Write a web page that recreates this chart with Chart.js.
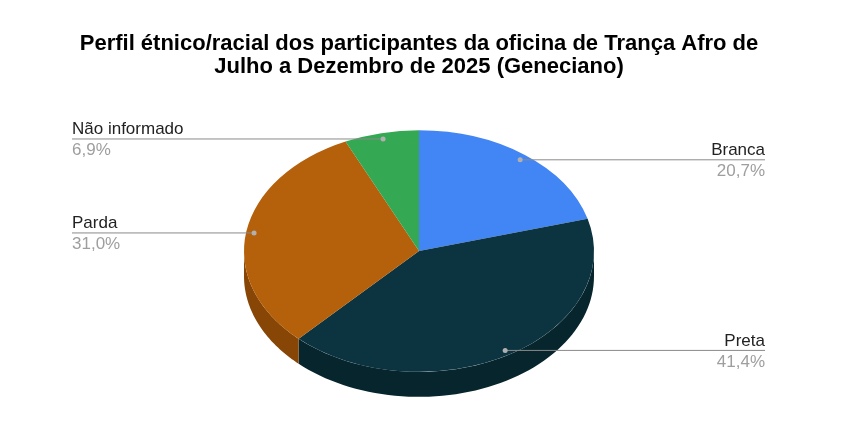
<!DOCTYPE html>
<html>
<head>
<meta charset="utf-8">
<script src="https://cdn.jsdelivr.net/npm/chart.js@4.4.1/dist/chart.umd.min.js"></script>
<style>
  html, body { margin: 0; padding: 0; background: #fff; }
  #wrap { width: 851px; height: 445px; }
</style>
</head>
<body>
<div id="wrap"><canvas id="perfilChart"></canvas></div>
<script>
// data (29 participants)
const categories = ['Branca', 'Preta', 'Parda', 'Não informado'];
const counts = [6, 12, 9, 2];
const topColors = ['#4285f4', '#0c3340', '#b5600a', '#34a853'];
const sideColors = ['#2a62c0', '#07252d', '#874606', '#23803e'];
const chartTitle = ['Perfil étnico/racial dos participantes da oficina de Trança Afro de',
                    'Julho a Dezembro de 2025 (Geneciano)'];

const TILT = 0.69;   // vertical squash of the pie
const DEPTH = 25;    // thickness of the 3d rim

// draws the rim under the pie and squashes the top face into an ellipse
const pie3d = {
    id: 'pie3d',
    beforeDatasetsDraw(chart) {
        const ctx = chart.ctx;
        const arcs = chart.getDatasetMeta(0).data;
        arcs.forEach((arc, i) => {
            const { x, y, startAngle, endAngle, outerRadius } = arc;
            [0, 2 * Math.PI].forEach(base => {
                const a0 = Math.max(startAngle, base);
                const a1 = Math.min(endAngle, base + Math.PI);
                if (a1 <= a0) return;
                const steps = 60;
                ctx.beginPath();
                for (let k = 0; k <= steps; k++) {
                    const a = a0 + (a1 - a0) * k / steps;
                    const px = x + outerRadius * Math.cos(a);
                    const py = y + TILT * outerRadius * Math.sin(a);
                    if (k === 0) ctx.moveTo(px, py); else ctx.lineTo(px, py);
                }
                for (let k = steps; k >= 0; k--) {
                    const a = a0 + (a1 - a0) * k / steps;
                    ctx.lineTo(x + outerRadius * Math.cos(a), y + TILT * outerRadius * Math.sin(a) + DEPTH);
                }
                ctx.closePath();
                ctx.fillStyle = sideColors[i];
                ctx.fill();
            });
        });
        const c = arcs[0];
        ctx.save();
        ctx.translate(c.x, c.y);
        ctx.scale(1, TILT);
        ctx.translate(-c.x, -c.y);
    },
    afterDatasetsDraw(chart) {
        const ctx = chart.ctx;
        ctx.restore();
        const arcs = chart.getDatasetMeta(0).data;
        const total = counts.reduce((a, b) => a + b, 0);
        const leftX = 72, rightX = 765;
        arcs.forEach((arc, i) => {
            const mid = (arc.startAngle + arc.endAngle) / 2;
            const r = arc.outerRadius * 0.955;
            const px = arc.x + r * Math.cos(mid);
            const py = arc.y + TILT * r * Math.sin(mid);
            const right = Math.cos(mid) >= 0;
            const ex = right ? rightX : leftX;

            ctx.strokeStyle = '#8a8a8a';
            ctx.lineWidth = 1;
            ctx.beginPath();
            ctx.moveTo(px, py + 0.5);
            ctx.lineTo(ex, py + 0.5);
            ctx.stroke();

            ctx.fillStyle = '#b0b0b0';
            ctx.beginPath();
            ctx.arc(px, py + 0.5, 2.5, 0, Math.PI * 2);
            ctx.fill();

            ctx.textAlign = right ? 'right' : 'left';
            ctx.textBaseline = 'alphabetic';
            ctx.font = '17px "Liberation Sans", Arial, sans-serif';
            ctx.fillStyle = '#222222';
            ctx.fillText(categories[i], ex, py - 4);
            ctx.fillStyle = '#9e9e9e';
            const pct = (counts[i] / total * 100).toFixed(1).replace('.', ',') + '%';
            ctx.fillText(pct, ex, py + 17);
        });
    }
};

new Chart(document.getElementById('perfilChart'), {
    type: 'pie',
    data: {
        labels: categories,
        datasets: [{
            data: counts,
            backgroundColor: topColors,
            borderWidth: 0,
            radius: 175,
            clip: false
        }]
    },
    options: {
        responsive: true,
        maintainAspectRatio: false,
        animation: false,
        events: [],
        layout: {
            padding: { left: 0, right: 13, top: 0, bottom: 31 }
        },
        plugins: {
            legend: { display: false },
            tooltip: { enabled: false },
            title: {
                display: true,
                text: chartTitle,
                color: '#000',
                font: { family: '"Liberation Sans", Arial, sans-serif', size: 22, weight: 'bold', lineHeight: 1.05 },
                padding: { top: 32, bottom: 10 }
            }
        }
    },
    plugins: [pie3d]
});
</script>
</body>
</html>
